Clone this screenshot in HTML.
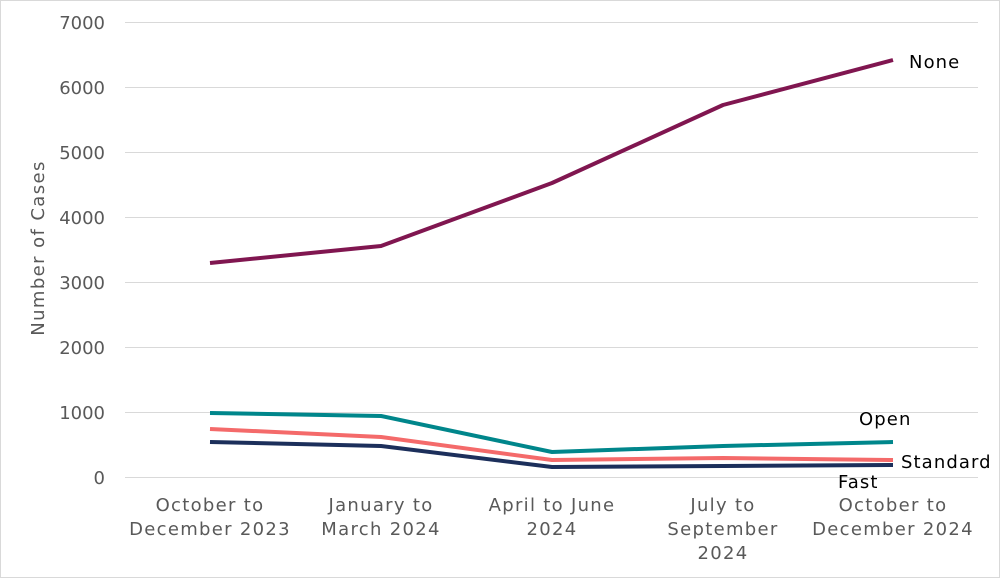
<!DOCTYPE html>
<html><head><meta charset="utf-8"><style>
html,body{margin:0;padding:0;background:#fff}
svg{display:block}
text{font-family:"DejaVu Sans","Liberation Sans",sans-serif}
</style></head><body>
<svg width="1000" height="578" viewBox="0 0 1000 578">
<rect x="0.5" y="0.5" width="999" height="577" fill="#fff" stroke="#d9d9d9"/>
<g stroke="#d9d9d9" stroke-width="1">
<line x1="125" x2="978" y1="22.5" y2="22.5"/>
<line x1="125" x2="978" y1="87.5" y2="87.5"/>
<line x1="125" x2="978" y1="152.5" y2="152.5"/>
<line x1="125" x2="978" y1="217.5" y2="217.5"/>
<line x1="125" x2="978" y1="282.5" y2="282.5"/>
<line x1="125" x2="978" y1="347.5" y2="347.5"/>
<line x1="125" x2="978" y1="412.5" y2="412.5"/>
<line x1="125" x2="978" y1="477.5" y2="477.5"/>
</g>
<g font-size="18" fill="#595959" text-anchor="end">
<text x="105" y="29">7000</text>
<text x="105" y="94">6000</text>
<text x="105" y="159">5000</text>
<text x="105" y="224">4000</text>
<text x="105" y="289">3000</text>
<text x="105" y="354">2000</text>
<text x="105" y="419">1000</text>
<text x="105" y="484">0</text>
</g>
<text transform="translate(44,248) rotate(-90)" font-size="18" letter-spacing="1.4" fill="#595959" text-anchor="middle">Number of Cases</text>
<g font-size="18" fill="#595959" text-anchor="middle" letter-spacing="1.3">
<text x="210" y="511">October to</text><text x="210" y="535">December 2023</text>
<text x="381" y="511">January to</text><text x="381" y="535">March 2024</text>
<text x="552" y="511">April to June</text><text x="552" y="535">2024</text>
<text x="723" y="511">July to</text><text x="723" y="535">September</text><text x="723" y="559">2024</text>
<text x="893" y="511">October to</text><text x="893" y="535">December 2024</text>
</g>
<g fill="none" stroke-width="4" stroke-linejoin="round">
<polyline stroke="#801650" points="210,263 381,246 552,183 723,105 893,60"/>
<polyline stroke="#00868b" points="210,413 381,416 552,452 723,446 893,442"/>
<polyline stroke="#f46a6a" points="210,429 381,437 552,460 723,458 893,460"/>
<polyline stroke="#1c2f5b" points="210,442 381,446 552,467 723,466 893,465"/>
</g>
<g font-size="18" fill="#000" letter-spacing="1.1">
<text x="909" y="68">None</text>
<text x="859" y="425">Open</text>
<text x="901" y="468">Standard</text>
<text x="838" y="488">Fast</text>
</g>
</svg>
</body></html>
